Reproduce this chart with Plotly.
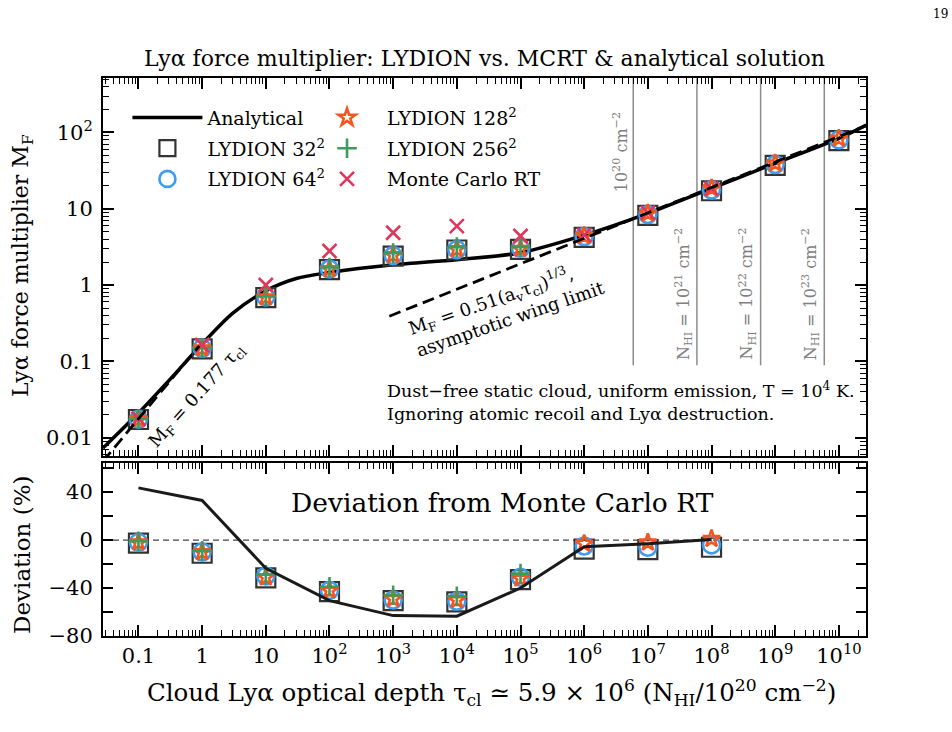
import numpy as np
import plotly.graph_objects as go

# ---------------- data ----------------
tau = [0.1, 1, 10, 1e2, 1e3, 1e4, 1e5, 1e6, 1e7, 1e8, 1e9, 1e10]
tau_mc = tau[:10]
tau_256 = tau[:7]

mf_l32 = [0.0173, 0.146, 0.685, 1.59, 2.40, 2.88, 2.94, 4.21, 8.2, 17.2, 37.0, 78.0]
mf_l64 = [0.0174, 0.148, 0.70, 1.62, 2.43, 2.91, 3.03, 4.32, 8.4, 17.6, 38.0, 80.0]
mf_l128 = [0.0174, 0.148, 0.69, 1.62, 2.47, 2.96, 2.99, 4.41, 8.7, 18.5, 39.4, 83.0]
mf_l256 = [0.0176, 0.149, 0.71, 1.70, 2.62, 3.14, 3.16]
mf_mc = [0.0178, 0.164, 1.0, 2.79, 4.85, 5.93, 4.39, 4.55, 8.9, 18.3]

tau_an = [0.0277, 0.1, 0.3, 1, 3, 10, 30, 100, 1e3, 1e4, 1e5, 1e6, 1e7, 1e8, 1e9, 1e10, 2.7e10]
mf_an = [0.0073, 0.021, 0.056, 0.169, 0.425, 0.84, 1.22, 1.46, 1.84, 2.15, 2.65, 4.5, 8.7, 18.5, 39.4, 83.7, 125.0]

tau_lin = [0.0277, 0.9]
mf_lin = [0.0049, 0.159]
tau_wing = [870, 2.7e10]
mf_wing = [0.39, 123.0]

dev_l32 = [-2.5, -11, -31.5, -43, -50.5, -51.5, -33, -7.5, -8, -6]
dev_l64 = [-2, -10, -30, -42, -50, -51, -31, -5, -6, -4]
dev_l128 = [-2, -10, -31, -42, -49, -50, -32, -3, -2, 1]
dev_l256 = [-1, -9, -29, -39, -46, -47, -28]
dev_an = [43.5, 33, -23.5, -50.5, -63, -63.5, -40, -5.5, -3, 0.5]

nhi_exp = [20, 21, 22, 23]
nhi_tau = [5.9e6, 5.9e7, 5.9e8, 5.9e9]

xtick_vals = [0.1, 1, 10, 1e2, 1e3, 1e4, 1e5, 1e6, 1e7, 1e8, 1e9, 1e10]
xtick_text = ["0.1", "1", "10"] + ["10<sup>%d</sup>" % k for k in range(2, 11)]
ytick_vals = [0.01, 0.1, 1, 10, 100]
ytick_text = ["0.01", "0.1", "1", "10", "10<sup>2</sup>"]
dtick_vals = [-80, -40, 0, 40]
dtick_text = ["\u221280", "\u221240", "0", "40"]

# ---------------- style ----------------
FONT = "DejaVu Serif"
C_SQ = "#333333"
C_CI = "#3d9df0"
C_ST = "#f4561f"
C_PL = "#3f9a5c"
C_X = "#e0365c"

fig = go.Figure()

def add_markers(x, y, xa, ya, name, symbol, size, color, lw, show, legend, group):
    fig.add_trace(go.Scatter(
        x=x, y=y, xaxis=xa, yaxis=ya, mode="markers", name=name,
        marker=dict(symbol=symbol, size=size, color=color,
                    line=dict(color=color, width=lw)),
        showlegend=show, legend=legend, legendgroup=group))

# top panel
fig.add_trace(go.Scatter(x=tau_an, y=mf_an, xaxis="x2", yaxis="y2", mode="lines",
                         line=dict(color="black", width=3.5, shape="spline", smoothing=0.8),
                         name="Analytical", legend="legend", legendgroup="a"))
add_markers(tau, mf_l32, "x2", "y2", "LYDION 32<sup>2</sup>", "square-open", 19, C_SQ, 2.2, True, "legend", "b")
add_markers(tau, mf_l64, "x2", "y2", "LYDION 64<sup>2</sup>", "circle-open", 17, C_CI, 2.6, True, "legend", "c")
add_markers(tau, mf_l128, "x2", "y2", "LYDION 128<sup>2</sup>", "star-open", 13, C_ST, 2.6, True, "legend2", "d")
add_markers(tau_256, mf_l256, "x2", "y2", "LYDION 256<sup>2</sup>", "cross-thin-open", 14, C_PL, 2.6, True, "legend2", "e")
add_markers(tau_mc, mf_mc, "x2", "y2", "Monte Carlo RT", "x-thin-open", 14, C_X, 2.6, True, "legend2", "f")
fig.add_trace(go.Scatter(x=tau_lin, y=mf_lin, xaxis="x2", yaxis="y2", mode="lines",
                         line=dict(color="black", width=2.8, dash="12px,6px"), showlegend=False))
fig.add_trace(go.Scatter(x=tau_wing, y=mf_wing, xaxis="x2", yaxis="y2", mode="lines",
                         line=dict(color="black", width=2.8, dash="12px,6px"), showlegend=False))

# bottom panel
add_markers(tau_mc, dev_l32, "x", "y", "", "square-open", 19, C_SQ, 2.2, False, "legend", "b")
add_markers(tau_mc, dev_l64, "x", "y", "", "circle-open", 17, C_CI, 2.6, False, "legend", "c")
add_markers(tau_mc, dev_l128, "x", "y", "", "star-open", 13, C_ST, 2.6, False, "legend2", "d")
add_markers(tau_256, dev_l256, "x", "y", "", "cross-thin-open", 14, C_PL, 2.6, False, "legend2", "e")
fig.add_trace(go.Scatter(x=tau_mc, y=dev_an, xaxis="x", yaxis="y", mode="lines",
                         line=dict(color="#1a1a1a", width=3), showlegend=False))

# shapes
shapes = [dict(type="line", xref="x domain", yref="y", x0=0, x1=1, y0=0, y1=0,
               line=dict(color="#444444", width=1.3, dash="6px,4px"), layer="below")]
for t in nhi_tau:
    shapes.append(dict(type="line", xref="x2", yref="y2 domain", x0=t, x1=t, y0=0.24, y1=1,
                       line=dict(color="#8c8c8c", width=1.5), layer="below"))

ax_common = dict(showline=True, linecolor="black", linewidth=2, mirror="allticks",
                 ticks="inside", tickcolor="black", showgrid=False, zeroline=False,
                 tickfont=dict(family=FONT, size=21, color="black"))
xr = [-1.557, 10.426]
minor_x = dict(ticks="inside", ticklen=6, tickwidth=1, tickcolor="black", showgrid=False, dtick="D1")

fig.update_layout(
    width=952, height=732,
    margin=dict(l=103, r=86, t=78, b=96),
    plot_bgcolor="white", paper_bgcolor="white",
    font=dict(family=FONT, color="black"),
    xaxis=dict(type="log", range=xr, domain=[0, 1], anchor="y",
               tickvals=xtick_vals, ticktext=xtick_text, ticklen=11, tickwidth=1.5,
               minor=minor_x, **ax_common),
    xaxis2=dict(type="log", range=xr, domain=[0, 1], anchor="y2", matches="x",
                tickvals=xtick_vals, ticktext=xtick_text, showticklabels=False,
                ticklen=11, tickwidth=1.5, minor=minor_x, **ax_common),
    yaxis=dict(range=[-80, 64.2], domain=[0, 0.31], anchor="x",
               tickvals=dtick_vals, ticktext=dtick_text, ticklen=10, tickwidth=1.5,
               ticklabelstandoff=4,
               minor=dict(ticks="inside", ticklen=10, tickwidth=1.5, tickcolor="black", dtick=20,
                          showgrid=False),
               **ax_common),
    yaxis2=dict(type="log", range=[-2.24, 2.713], domain=[0.3226, 1], anchor="x2",
                tickvals=ytick_vals, ticktext=ytick_text, ticklen=11, tickwidth=1.5,
                ticklabelstandoff=4,
                minor=dict(ticks="inside", ticklen=6, tickwidth=1, tickcolor="black",
                           showgrid=False, dtick="D1"),
                **ax_common),
    legend=dict(x=0.032, y=0.963, xanchor="left", yanchor="top", bgcolor="rgba(0,0,0,0)",
                font=dict(family=FONT, size=19), tracegroupgap=3, itemwidth=70),
    legend2=dict(x=0.2674, y=0.963, xanchor="left", yanchor="top", bgcolor="rgba(0,0,0,0)",
                 font=dict(family=FONT, size=19), tracegroupgap=3, itemwidth=70),
    shapes=shapes,
    showlegend=True,
)

def px(x):
    return (x - 103) / 763.0

def py(y):
    return (636 - y) / 558.0

ann = []
ann.append(dict(x=px(484), y=py(58), text="Ly\u03b1 force multiplier: LYDION vs. MCRT &amp; analytical solution",
                font=dict(size=22), showarrow=False))
ann.append(dict(x=px(22), y=py(266), text="Ly\u03b1 force multiplier M<sub>F</sub>", textangle=-90,
                font=dict(size=22), showarrow=False))
ann.append(dict(x=px(22), y=py(555), text="Deviation (%)", textangle=-90,
                font=dict(size=23), showarrow=False))
ann.append(dict(x=px(491), y=py(692),
                text="Cloud Ly\u03b1 optical depth \u03c4<sub>cl</sub> \u2243 5.9 \u00d7 10<sup>6</sup> (N<sub>HI</sub>/10<sup>20</sup> cm<sup>\u22122</sup>)",
                font=dict(size=24.5), showarrow=False))
ann.append(dict(x=px(940), y=py(14), text="19", font=dict(size=12), showarrow=False))
ann.append(dict(x=px(502), y=py(502), text="Deviation from Monte Carlo RT",
                font=dict(size=26.5), showarrow=False))
ann.append(dict(x=px(197), y=py(396), text="M<sub>F</sub> = 0.177 \u03c4<sub>cl</sub>", textangle=-48,
                font=dict(size=18), showarrow=False))
ann.append(dict(x=px(506), y=py(306),
                text="M<sub>F</sub> = 0.51(a<sub>v</sub>\u03c4<sub>cl</sub>)<sup>1/3</sup>,<br>asymptotic wing limit",
                textangle=-19, align="left", font=dict(size=18), showarrow=False))
ann.append(dict(x=px(385), y=py(401), xanchor="left", align="left",
                text="Dust\u2212free static cloud, uniform emission, T = 10<sup>4</sup> K.<br>Ignoring atomic recoil and Ly\u03b1 destruction.",
                font=dict(size=17.5), showarrow=False))
for i, (e, t) in enumerate(zip(nhi_exp, nhi_tau)):
    if i == 0:
        txt = "10<sup>%d</sup> cm<sup>\u22122</sup>" % e
        yy, ya = py(110), "top"
    else:
        txt = "N<sub>HI</sub> = 10<sup>%d</sup> cm<sup>\u22122</sup>" % e
        yy, ya = py(362), "bottom"
    ann.append(dict(x=np.log10(t), xref="x2", y=yy, yref="paper", xshift=-13, yanchor=ya,
                    xanchor="center",
                    text=txt, textangle=-90, font=dict(size=16, color="#808080"), showarrow=False))

for a in ann:
    a.setdefault("xref", "paper")
    a.setdefault("yref", "paper")
    a.setdefault("xanchor", "center")
    a.setdefault("yanchor", "middle")
    f = a.get("font", {})
    f.setdefault("family", FONT)
    f.setdefault("color", "black")
    a["font"] = f
fig.update_layout(annotations=ann)

fig.write_html("out.html")
